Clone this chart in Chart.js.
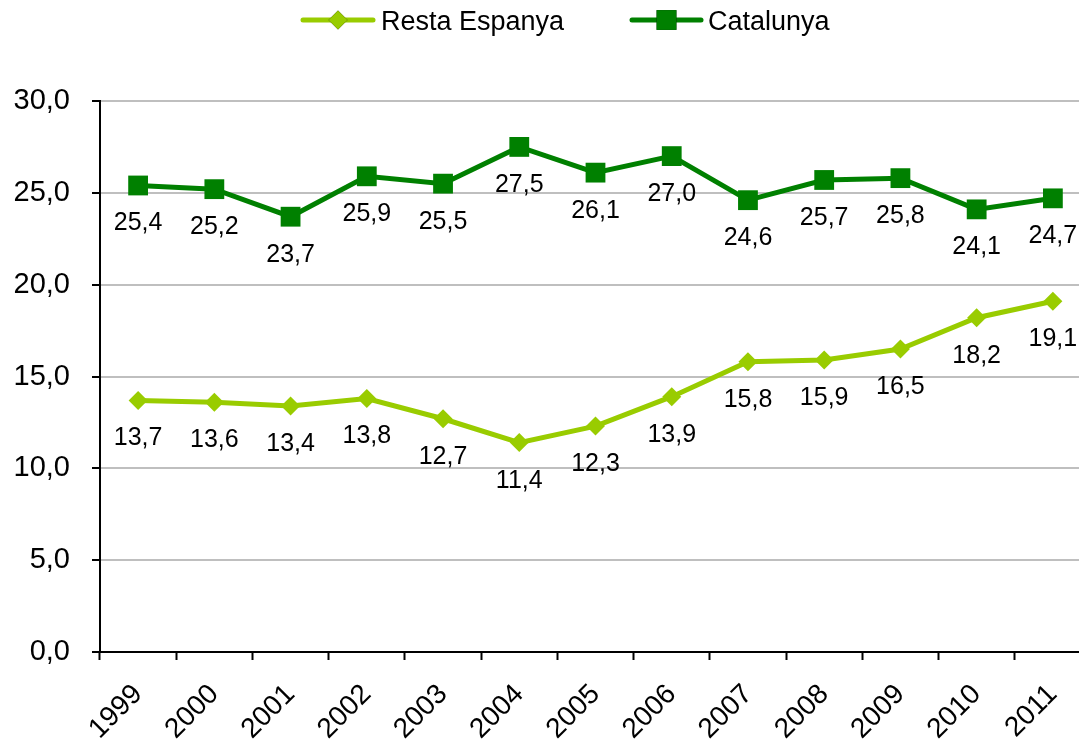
<!DOCTYPE html>
<html>
<head>
<meta charset="utf-8">
<script src="https://cdn.jsdelivr.net/npm/chart.js@4/dist/chart.umd.min.js"></script>
<style>
  html, body { margin: 0; padding: 0; background: #fff; overflow: hidden; }
  #chart { display: block; }
</style>
</head>
<body>
<canvas id="chart" width="1105" height="751"></canvas>
<script>
// Chart data
const years = ['1999', '2000', '2001', '2002', '2003', '2004', '2005', '2006', '2007', '2008', '2009', '2010', '2011'];
const restaEspanya = [13.7, 13.6, 13.4, 13.8, 12.7, 11.4, 12.3, 13.9, 15.8, 15.9, 16.5, 18.2, 19.1];
const catalunya = [25.4, 25.2, 23.7, 25.9, 25.5, 27.5, 26.1, 27.0, 24.6, 25.7, 25.8, 24.1, 24.7];
const yTicks = [0, 5, 10, 15, 20, 25, 30];

const LIGHT = '#99cc00';
const DARK = '#008000';
const FONT = '"Liberation Sans", Arial, sans-serif';

const fmt = (v) => v.toFixed(1).replace('.', ',');

// Values written under each point
const valueLabels = {
  id: 'valueLabels',
  afterDatasetsDraw(chart) {
    const ctx = chart.ctx;
    ctx.save();
    ctx.font = '25px ' + FONT;
    ctx.fillStyle = '#000';
    ctx.textAlign = 'center';
    ctx.textBaseline = 'middle';
    chart.data.datasets.forEach((ds, i) => {
      chart.getDatasetMeta(i).data.forEach((pt, j) => {
        ctx.fillText(fmt(ds.data[j]), pt.x, pt.y + 38);
      });
    });
    ctx.restore();
  }
};

// Legend drawn as line + marker + text, like the original
const lineLegend = {
  id: 'lineLegend',
  afterDraw(chart) {
    const ctx = chart.ctx;
    const items = [
      { ds: 0, x1: 303, x2: 373, tx: 381 },
      { ds: 1, x1: 632, x2: 701, tx: 708 }
    ];
    ctx.save();
    items.forEach(it => {
      const ds = chart.data.datasets[it.ds];
      const y = 20;
      ctx.strokeStyle = ds.borderColor;
      ctx.lineWidth = 5;
      ctx.lineCap = 'round';
      ctx.beginPath();
      ctx.moveTo(it.x1, y);
      ctx.lineTo(it.x2, y);
      ctx.stroke();
      Chart.helpers.drawPoint(ctx, {
        pointStyle: ds.pointStyle,
        radius: ds.pointRadius,
        borderWidth: 0,
        rotation: 0
      }, (it.x1 + it.x2) / 2, y);
      ctx.fillStyle = ds.borderColor;
      ctx.fill();
      ctx.fillStyle = '#000';
      ctx.font = '27px ' + FONT;
      ctx.textAlign = 'left';
      ctx.textBaseline = 'middle';
      ctx.fillText(ds.label, it.tx, 23);
    });
    ctx.restore();
  }
};

const ctx = document.getElementById('chart').getContext('2d');
new Chart(ctx, {
  type: 'line',
  data: {
    labels: years,
    datasets: [
      {
        label: 'Resta Espanya',
        data: restaEspanya,
        borderColor: LIGHT,
        backgroundColor: LIGHT,
        borderWidth: 5,
        pointStyle: 'rectRot',
        pointRadius: 9.5,
        pointBorderWidth: 0,
        tension: 0
      },
      {
        label: 'Catalunya',
        data: catalunya,
        borderColor: DARK,
        backgroundColor: DARK,
        borderWidth: 5,
        pointStyle: 'rect',
        pointRadius: 14,
        pointBorderWidth: 0,
        tension: 0
      }
    ]
  },
  options: {
    responsive: false,
    animation: false,
    devicePixelRatio: 1,
    layout: { padding: { top: 101, right: 2, left: 0, bottom: 0 } },
    plugins: {
      legend: { display: false },
      tooltip: { enabled: false }
    },
    scales: {
      x: {
        offset: true,
        afterFit: (scale) => { scale.height = 99; },
        grid: {
          offset: true,
          drawOnChartArea: false,
          drawTicks: true,
          tickLength: 8,
          tickColor: '#000',
          tickWidth: 2
        },
        border: { color: '#000', width: 2 },
        ticks: {
          color: '#000',
          font: { family: FONT, size: 28 },
          minRotation: 45,
          maxRotation: 45,
          padding: 18
        }
      },
      y: {
        min: yTicks[0],
        max: yTicks[yTicks.length - 1],
        afterFit: (scale) => { scale.width = 100; },
        afterBuildTicks: (scale) => { scale.ticks = yTicks.map(v => ({ value: v })); },
        grid: {
          color: '#bfbfbf',
          lineWidth: 2,
          tickColor: '#000',
          tickLength: 8,
          tickWidth: 2
        },
        border: { color: '#000', width: 2 },
        ticks: {
          color: '#000',
          font: { family: FONT, size: 29 },
          padding: 22,
          callback: (v) => fmt(v)
        }
      }
    }
  },
  plugins: [valueLabels, lineLegend]
});
</script>
</body>
</html>
